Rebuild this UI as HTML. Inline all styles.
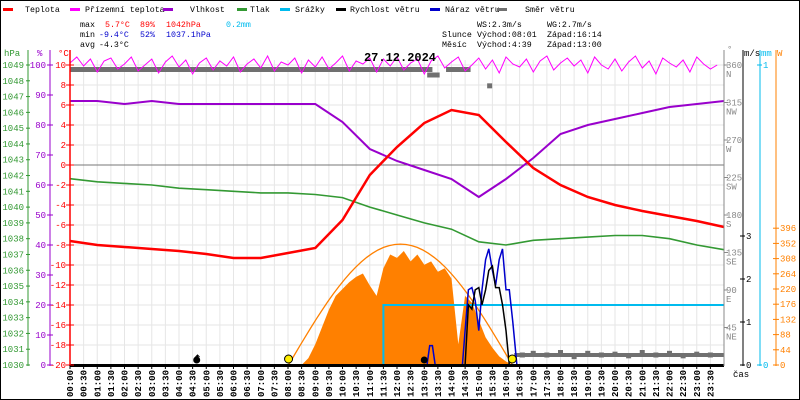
<!DOCTYPE html>
<html><head><meta charset="utf-8"><style>
html,body{margin:0;padding:0;background:#fff}
svg{display:block;font-family:"Liberation Mono",monospace;font-size:9px}
.sm text{font-size:8.3px}
</style></head><body>
<svg id="c" width="800" height="400" viewBox="0 0 800 400"></svg>
<script>
// ---- data ----
const hours = [0,1,2,3,4,5,6,7,8,9,10,11,12,13,14,15,16,17,18,19,20,21,22,23,24];
const temperature = [-7.6,-8.0,-8.2,-8.4,-8.6,-8.9,-9.3,-9.3,-8.8,-8.3,-5.5,-1.0,1.8,4.2,5.5,5.0,2.3,-0.3,-2.0,-3.2,-4.0,-4.6,-5.1,-5.6,-6.2];
const humidity = [88,88,87,88,87,87,87,87,87,87,81,72,68,65,62,56,62,69,77,80,82,84,86,87,88];
const pressure = [1041.8,1041.6,1041.5,1041.4,1041.2,1041.1,1041.0,1040.9,1040.9,1040.8,1040.6,1040.0,1039.5,1039.0,1038.6,1037.8,1037.6,1037.9,1038.0,1038.1,1038.2,1038.2,1038.0,1037.6,1037.3];
const apparentTemp = [10.2,10.8,9.9,10.6,9.3,10.4,10.7,9.6,10.1,10.8,9.4,10.0,10.6,9.2,10.3,10.9,9.8,10.5,9.1,10.2,10.7,9.5,10.4,9.9,10.8,9.3,10.1,10.6,9.7,10.9,9.4,10.3,10.0,10.7,9.2,10.5,9.8,10.8,9.6,10.2,10.9,9.4,10.4,10.1,10.7,9.3,10.6,9.9,10.8,9.5,10.2,10.6,9.1,10.4,10.9,9.7,10.3,10.8,9.4,10.0,10.7,9.6,10.5,9.2,10.8,10.1,9.8,10.6,9.3,10.4,10.9,9.5,10.2,10.7,9.9,10.5,9.2,10.8,10.0,9.6,10.6,9.4,10.3,10.9,9.7,10.4,9.1,10.7,10.2,9.8,10.5,9.3,10.8,10.1,9.6,10.0];
const solarTimes = [8.5,8.75,9,9.25,9.5,9.75,10,10.25,10.5,10.75,11,11.25,11.5,11.75,12,12.25,12.5,12.75,13,13.25,13.5,13.75,14,14.25,14.5,14.75,15,15.25,15.5,15.75,16,16.25];
const solarW = [0,20,60,110,160,200,220,240,255,265,230,200,280,320,310,330,300,320,290,300,270,280,250,60,200,180,130,80,50,25,10,0];
const windTimes = [0,14.4,14.5,14.62,14.75,14.87,15.0,15.12,15.25,15.37,15.5,15.62,15.75,15.87,16.0,16.12,16.25,16.4,24];
const windSpeed = [0,0,0,1.4,1.3,1.75,1.8,1.4,1.75,2.2,2.3,1.8,1.8,1.4,0.8,0,0,0,0];
const windGust =  [0,0,0.8,1.75,1.8,1.5,0.8,1.75,2.45,2.7,2.2,1.85,2.45,2.7,1.75,1.75,1.0,0,0];
const gustBlipTimes = [13.1,13.2,13.3,13.4];
const gustBlip = [0,0.45,0.45,0];
const rainTimes = [0,11.5,11.5,24];
const rainMm = [0,0,0.2,0.2];
const dirTimes = [13.2,13.4,15.4,16.6,17.0,17.5,18.0,18.5,19.0,19.5,20.0,20.5,21.0,21.5,22.0,22.5,23.0,23.5];
const dirDeg = [348,348,335,12,14,12,15,10,14,12,13,11,15,12,14,11,13,12];
const pTicks = [1049,1048,1047,1046,1045,1044,1043,1042,1041,1040,1039,1038,1037,1036,1035,1034,1033,1032,1031,1030];
const hTicks = [100,90,80,70,60,50,40,30,20,10,0];
const tTicks = [10,8,6,4,2,0,-2,-4,-6,-8,-10,-12,-14,-16,-18,-20];
const dirTicks = [[360,'N'],[315,'NW'],[270,'W'],[225,'SW'],[180,'S'],[135,'SE'],[90,'E'],[45,'NE']];
const wsTicks = [0,1,2,3];
const wTicks = [0,44,88,132,176,220,264,308,352,396];

// ---- scales ----
const X=h=>70+h*27.25;
const YT=t=>165-10*t;
const YH=p=>365-3*p;
const YP=p=>65+(1049-p)*15.79;
const YD=d=>365-d*300/360;
const YWS=v=>365-43*v;
const YMM=m=>365-300*m;
const YW=w=>365-w*15.2/44;
const svg=document.getElementById('c');
const NS='http://www.w3.org/2000/svg';
function mk(tag,attrs,parent){const e=document.createElementNS(NS,tag);for(const k in attrs)e.setAttribute(k,attrs[k]);(parent||svg).appendChild(e);return e;}
function txt(s,x,y,fill,anchor,parent){const e=mk('text',{x:x,y:y,fill:fill||'#000','text-anchor':anchor||'start'},parent);e.textContent=s;return e;}
function line(xs,ys,fx,fy){return xs.map((v,i)=>X(v).toFixed(1)+','+fy(ys[i]).toFixed(1)).join(' ');}

mk('rect',{x:0.5,y:0.5,width:799,height:399,fill:'#fff',stroke:'#000'});
// grid
const grid=mk('g',{stroke:'#e6e6e6','stroke-width':1});


for(let i=1;i<=48;i++){const x=X(i/2);mk('line',{x1:x,y1:60,x2:x,y2:365},grid);}
tTicks.forEach(t=>{mk('line',{x1:70,y1:YT(t),x2:724,y2:YT(t)},grid);});
const zl=mk('line',{x1:70,y1:165,x2:724,y2:165,stroke:'#777','stroke-width':1});



// solar
const solarG=mk('g',{});


let sp=X(solarTimes[0])+',365 '+line(solarTimes,solarW,null,YW)+' '+X(solarTimes[solarTimes.length-1])+',365';
mk('polygon',{points:sp,fill:'#ff8000'},solarG);
let th=[],tv=[];for(let i=0;i<=40;i++){const h=8.02+(16.23-8.02)*i/40;th.push(h);tv.push(350*Math.sin(Math.PI*i/40));}
mk('polyline',{points:line(th,tv,null,YW),fill:'none',stroke:'#ff8000','stroke-width':1.3},solarG);

// rain
const rain=mk('polyline',{points:line(rainTimes,rainMm,null,YMM),fill:'none',stroke:'#00bbee','stroke-width':2});



// direction
const dirG=mk('g',{fill:'#707070'});


mk('rect',{x:70,y:67,width:X(13.3)-70,height:5},dirG);
mk('rect',{x:X(13.8),y:67,width:X(14.7)-X(13.8),height:5},dirG);
dirTimes.forEach((t,i)=>{mk('rect',{x:X(t)-2.5,y:YD(dirDeg[i])-2.5,width:(i<2?7:5),height:5},dirG);});
mk('rect',{x:X(16.3),y:YD(12)-2,width:X(24)-X(16.3),height:4},dirG);

// pressure, humidity, temperature
const pr=mk('polyline',{points:line(hours,pressure,null,YP),fill:'none',stroke:'#339933','stroke-width':1.6});

const hu=mk('polyline',{points:line(hours,humidity,null,YH),fill:'none',stroke:'#9900cc','stroke-width':2});

const at=mk('polyline',{points:apparentTemp.map((v,i)=>X(i/4).toFixed(1)+','+YT(v).toFixed(1)).join(' '),fill:'none',stroke:'#ff00ff','stroke-width':1});

const te=mk('polyline',{points:line(hours,temperature,null,YT),fill:'none',stroke:'#ff0000','stroke-width':2.5});


// wind
const gu=mk('polyline',{points:line(windTimes,windGust,null,YWS),fill:'none',stroke:'#0000cc','stroke-width':1.5});

const gb=mk('polyline',{points:line(gustBlipTimes,gustBlip,null,YWS),fill:'none',stroke:'#0000cc','stroke-width':1.5});

const ws=mk('polyline',{points:line(windTimes,windSpeed,null,YWS),fill:'none',stroke:'#000','stroke-width':1.5});


// markers
[[8.02,'#ffee00','sunrise-marker'],[16.23,'#ffee00','sunset-marker']].forEach(m=>{const c=mk('circle',{cx:X(m[0]),cy:359,r:4,fill:m[1],stroke:'#000'});});
[[4.65,'moonrise-marker'],[13.0,'moonset-marker']].forEach(m=>{const c=mk('circle',{cx:X(m[0]),cy:360,r:3.5,fill:'#000'});});
mk('path',{d:'M197.5 363V355M195.5 357L197.5 355L199.5 357',stroke:'#000',fill:'none'});

// axes
mk('line',{x1:70,y1:365.5,x2:724,y2:365.5,stroke:'#000','stroke-width':3});
const ax=mk('g',{});

mk('line',{x1:28,y1:50,x2:28,y2:366,stroke:'#339933'},ax);
mk('line',{x1:50,y1:50,x2:50,y2:366,stroke:'#9900cc'},ax);
mk('line',{x1:70,y1:50,x2:70,y2:366,stroke:'#ff0000','stroke-width':1.5},ax);
mk('line',{x1:724,y1:50,x2:724,y2:366,stroke:'#888'},ax);
mk('line',{x1:743,y1:50,x2:743,y2:366,stroke:'#000'},ax);
mk('line',{x1:760,y1:50,x2:760,y2:366,stroke:'#00bbee'},ax);
mk('line',{x1:776,y1:50,x2:776,y2:366,stroke:'#ff8000'},ax);
txt('hPa',4,56,'#339933',null,ax);txt('%',37,56,'#9900cc',null,ax);txt('°C',58,56,'#ff0000',null,ax);
txt('°',727,52,'#888',null,ax);txt('m/s',744,56,'#000',null,ax);txt('mm',761,56,'#00bbee',null,ax);txt('W',777,56,'#ff8000',null,ax);
pTicks.forEach(p=>{const y=YP(p);mk('line',{x1:26,y1:y,x2:30,y2:y,stroke:'#339933'},ax);txt(p,24,y+3,'#339933','end',ax);});
hTicks.forEach(p=>{const y=YH(p);mk('line',{x1:47,y1:y,x2:53,y2:y,stroke:'#9900cc'},ax);txt(p,46,y+3,'#9900cc','end',ax);});
tTicks.forEach(t=>{const y=YT(t);mk('line',{x1:66,y1:y,x2:74,y2:y,stroke:'#ff0000'},ax);txt(t,66,y+3,'#ff0000','end',ax);});
dirTicks.forEach(d=>{const y=YD(d[0]);mk('line',{x1:724,y1:y,x2:728,y2:y,stroke:'#888'},ax);txt(d[0],726,y+3,'#888',null,ax);txt(d[1],726,y+12,'#888',null,ax);});
wsTicks.forEach(v=>{const y=YWS(v);mk('line',{x1:740,y1:y,x2:745,y2:y,stroke:'#000'},ax);txt(v,746,y+3,'#000',null,ax);});
[0,1].forEach(m=>{const y=YMM(m);mk('line',{x1:757,y1:y,x2:762,y2:y,stroke:'#00bbee'},ax);txt(m,763,y+3,'#00bbee',null,ax);});
wTicks.forEach(w=>{const y=YW(w);mk('line',{x1:773,y1:y,x2:779,y2:y,stroke:'#ff8000'},ax);txt(w,780,y+3,'#ff8000',null,ax);});
txt('čas',733,377,'#000',null,ax);
// x labels
for(let i=0;i<48;i++){const x=X(i/2);mk('line',{x1:x,y1:365,x2:x,y2:369,stroke:'#000'},ax);
 const hh=String(Math.floor(i/2)).padStart(2,'0')+':'+(i%2?'30':'00');
 const t=mk('text',{x:0,y:0,fill:'#000','font-weight':'bold','text-anchor':'end',transform:'translate('+(x+3)+',370) rotate(-90)'},ax);t.textContent=hh;}

// title
const ti=txt('27.12.2024',400,61,'#000','middle');ti.setAttribute('font-size','12');ti.setAttribute('font-weight','bold');


// legend
const lg=mk('g',{class:'sm'});

[[3,25,'#ff0000','Teplota'],[70,85,'#ff00ff','Přízemní teplota'],[163,190,'#9900cc','Vlhkost'],[237,250,'#339933','Tlak'],[280,295,'#00bbee','Srážky'],[336,350,'#000','Rychlost větru'],[430,445,'#0000cc','Náraz větru'],[497,525,'#707070','Směr větru']].forEach(l=>{
 const g=mk('g',{},lg);
 mk('rect',{x:l[0],y:8,width:10,height:3,fill:l[2]},g);txt(l[3],l[1],12,'#000',null,g);});

// stats
const st=mk('g',{class:'sm'});

txt('max',80,27,'#000',null,st);txt('5.7°C',105,27,'#ff0000',null,st);txt('89%',140,27,'#ff0000',null,st);txt('1042hPa',166,27,'#ff0000',null,st);txt('0.2mm',226,27,'#00bbee',null,st);
txt('min',80,37,'#000',null,st);txt('-9.4°C',99,37,'#0000cc',null,st);txt('52%',140,37,'#0000cc',null,st);txt('1037.1hPa',166,37,'#0000cc',null,st);
txt('avg',80,47,'#000',null,st);txt('-4.3°C',99,47,'#000',null,st);
txt('WS:2.3m/s',477,27,'#000',null,st);txt('WG:2.7m/s',547,27,'#000',null,st);
txt('Slunce',442,37,'#000',null,st);txt('Východ:08:01',477,37,'#000',null,st);txt('Západ:16:14',547,37,'#000',null,st);
txt('Měsíc',442,47,'#000',null,st);txt('Východ:4:39',477,47,'#000',null,st);txt('Západ:13:00',547,47,'#000',null,st);
</script>
</body></html>
